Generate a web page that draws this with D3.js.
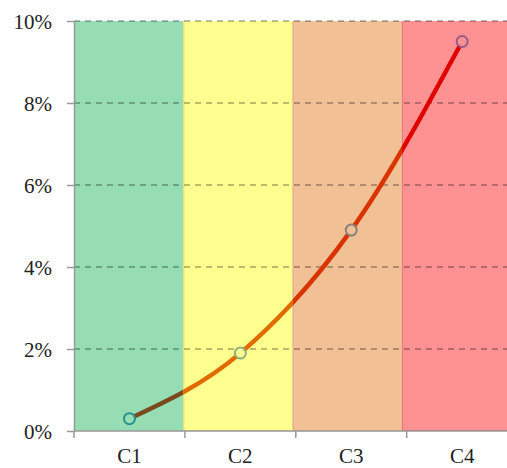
<!DOCTYPE html>
<html>
<head>
<meta charset="utf-8">
<script src="https://cdn.jsdelivr.net/npm/d3@7"></script>
<style>
  html, body { margin: 0; padding: 0; background: #fff; overflow: hidden; }
  svg { display: block; }
</style>
</head>
<body>
<svg id="chart" width="507" height="468"></svg>
<script>
// Categories and the percentage value at each one
const categories = ["C1", "C2", "C3", "C4"];
const values = [0.003, 0.019, 0.049, 0.095];
const yTicks = [0, 0.02, 0.04, 0.06, 0.08, 0.10];

// Zone styling per category
const bandFills = ["#96ddb4", "#ffff90", "#f1c095", "#fe9191"];
const bandEdges = ["#6fb88f", "#e8d060", "#e0a070", "#e07070"];
const lineColors = ["#7a4a1f", "#e06c00", "#d93400", "#e00000"];
const markerStrokes = ["#2a9090", "#8fb07e", "#888080", "#9a5a8a"];

const FONT = "'Liberation Serif', 'DejaVu Serif', 'Times New Roman', serif";

const svg = d3.select("#chart");
const plotLeft = 74, plotTop = 21, plotBottom = 431;

const y = d3.scaleLinear().domain([0, 0.10]).range([plotBottom, plotTop]);
const xBand = d3.scaleBand().domain(categories).range([plotLeft, 511.2]).padding(0);
const xAxisScale = d3.scaleBand().domain(categories).range([plotLeft, 517.6]).padding(0);
const xPoint = c => xAxisScale(c) + xAxisScale.bandwidth() / 2;

// Coloured zones
svg.append("g").selectAll("rect").data(categories).join("rect")
  .attr("x", d => xBand(d))
  .attr("y", plotTop)
  .attr("width", xBand.bandwidth())
  .attr("height", plotBottom - plotTop)
  .attr("fill", (d, i) => bandFills[i]);

// Thin zone edges (left and bottom)
svg.append("g").selectAll("path").data(categories).join("path")
  .attr("d", d => `M${xBand(d) + 0.5},${plotTop} V${plotBottom - 0.5} H${xBand(d) + xBand.bandwidth()}`)
  .attr("fill", "none")
  .attr("stroke", (d, i) => bandEdges[i])
  .attr("stroke-width", 1)
  .attr("opacity", (d, i) => i === 0 ? 0 : 0.8);

// Dashed horizontal gridlines
svg.append("g").selectAll("line").data(yTicks.filter(t => t > 0)).join("line")
  .attr("x1", plotLeft).attr("x2", 512)
  .attr("y1", d => y(d)).attr("y2", d => y(d))
  .attr("stroke", "rgba(0,0,0,0.36)")
  .attr("stroke-width", 1.5)
  .attr("stroke-dasharray", "6,5");

// Smooth curve, coloured by the zone it passes through
const pts = categories.map((c, i) => [xPoint(c), y(values[i])]);
const lineGen = d3.line().curve(d3.curveMonotoneX);
const defs = svg.append("defs");
categories.forEach((c, i) => {
  defs.append("clipPath").attr("id", "clip" + i)
    .append("rect")
    .attr("x", xBand(c)).attr("y", 0)
    .attr("width", xBand.bandwidth()).attr("height", 468);
});
const lineG = svg.append("g");
categories.forEach((c, i) => {
  lineG.append("path")
    .attr("d", lineGen(pts))
    .attr("fill", "none")
    .attr("stroke", lineColors[i])
    .attr("stroke-width", 4.5)
    .attr("clip-path", `url(#clip${i})`);
});

// Markers
svg.append("g").selectAll("circle").data(categories).join("circle")
  .attr("cx", d => xPoint(d))
  .attr("cy", (d, i) => y(values[i]))
  .attr("r", 5.5)
  .attr("fill", (d, i) => bandFills[i])
  .attr("stroke", (d, i) => markerStrokes[i])
  .attr("stroke-width", 2);

// Y axis
const yAxis = svg.append("g").attr("transform", `translate(${plotLeft},0)`)
  .call(d3.axisLeft(y).tickValues(yTicks).tickFormat(d3.format(".0%")).tickSizeOuter(0).tickSizeInner(7).tickPadding(15));
yAxis.attr("font-family", FONT).attr("font-size", 21);
yAxis.select(".domain").attr("stroke", "#999").attr("stroke-width", 1.5);
yAxis.selectAll(".tick line").attr("stroke", "#999").attr("stroke-width", 1.5);
yAxis.selectAll("text").attr("fill", "#222").attr("dy", "0.34em");

// X axis: ticks on category boundaries, labels centred
const xg = svg.append("g").attr("transform", `translate(0,${plotBottom})`)
  .attr("font-family", FONT).attr("font-size", 21);
xg.append("line").attr("x1", plotLeft).attr("x2", 512).attr("y1", 0).attr("y2", 0)
  .attr("stroke", "#999").attr("stroke-width", 1.5);
xg.selectAll("line.tk").data(categories).join("line").attr("class", "tk")
  .attr("x1", d => xAxisScale(d)).attr("x2", d => xAxisScale(d))
  .attr("y1", 0).attr("y2", 7)
  .attr("stroke", "#999").attr("stroke-width", 1.5);
xg.selectAll("text").data(categories).join("text")
  .attr("x", d => xPoint(d))
  .attr("y", 32)
  .attr("text-anchor", "middle")
  .attr("fill", "#222")
  .text(d => d);
</script>
</body>
</html>
